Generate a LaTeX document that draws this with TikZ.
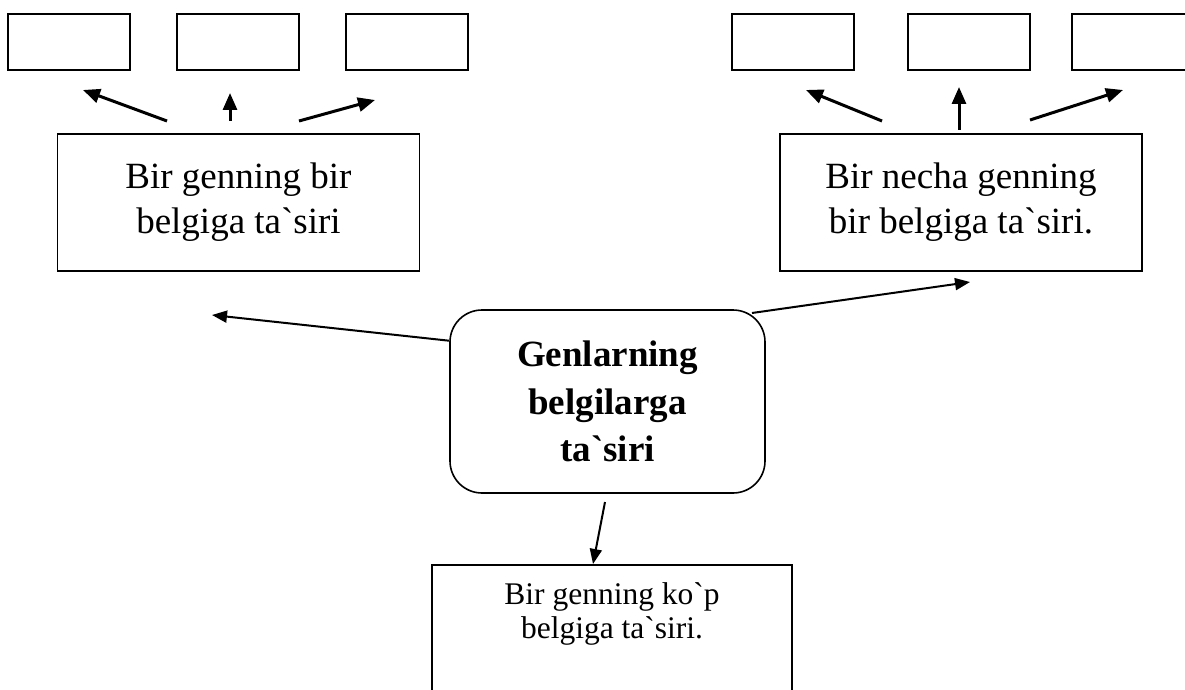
\documentclass[tikz,border=0pt]{standalone}
\usepackage{fontspec}
\setmainfont{Liberation Serif}[Ligatures=TeXOff]
\usetikzlibrary{arrows.meta}
\tikzset{
  cell/.style={draw, line width=1.6pt, minimum width=122pt, minimum height=56pt, inner sep=0pt},
  topic/.style={draw, line width=1.6pt, align=center, inner sep=0pt, minimum width=362pt,
    minimum height=137pt, font=\fontsize{37}{45}\selectfont},
  hub/.style={draw, line width=1.6pt, align=center, rounded corners=32pt, inner sep=0pt,
    minimum width=315pt, minimum height=183pt, font=\fontsize{37}{47.5}\selectfont\bfseries},
  leafbox/.style={draw, line width=1.6pt, align=center, anchor=north, inner sep=0pt,
    minimum width=360pt, text depth=150pt, font=\fontsize{31.5}{34}\selectfont},
  up/.style={line width=3pt, -{Triangle[length=17pt,width=14pt]}},
  link/.style={line width=2pt, -{Triangle[length=15pt,width=12pt]}}
}
\begin{document}
\begin{tikzpicture}[x=1pt,y=-1pt]
  \useasboundingbox (0,0) rectangle (1185,690);
  % empty boxes
  \node[cell] (l1) at (69,42) {};
  \node[cell] (l2) at (238,42) {};
  \node[cell] (l3) at (407,42) {};
  \node[cell] (r1) at (793,42) {};
  \node[cell] (r2) at (969,42) {};
  \node[cell] (r3) at (1133,42) {};
  % main boxes
  \node[topic] (one) at (238.5,202.5) {Bir genning bir\\belgiga ta`siri};
  \node[topic] (many) at (961,202.5) {Bir necha genning\\bir belgiga ta`siri.};
  \node[hub] (gen) at (607.5,401.5) {Genlarning\\belgilarga\\ta`siri};
  \node[leafbox] (multi) at (612,564) {\rule{0pt}{0pt}\\[6pt]Bir genning ko`p\\belgiga ta`siri.};
  % arrow ends
  \coordinate (a1) at (167,121); \coordinate (b1) at (83,90);
  \coordinate (a2) at (230,121); \coordinate (b2) at (230,93);
  \coordinate (a3) at (299,121); \coordinate (b3) at (375,100);
  \coordinate (a4) at (882,121); \coordinate (b4) at (806,90);
  \coordinate (a5) at (959,130); \coordinate (b5) at (959,87);
  \coordinate (a6) at (1030,120); \coordinate (b6) at (1123,90);
  \coordinate (gl) at (212,315);
  \coordinate (gr0) at (752,313); \coordinate (gr) at (970,282);
  \coordinate (gd0) at (605,502);
  \begin{scope}
    \draw[up] (a1) -- (b1);
    \draw[up] (a2) -- (b2);
    \draw[up] (a3) -- (b3);
    \draw[up] (a4) -- (b4);
    \draw[up] (a5) -- (b5);
    \draw[up] (a6) -- (b6);
    \draw[link] (gen.159) -- (gl);
    \draw[link] (gr0) -- (gr);
    \draw[link] (gd0) -- (multi.north -| 593,0);
  \end{scope}
\end{tikzpicture}
\end{document}
